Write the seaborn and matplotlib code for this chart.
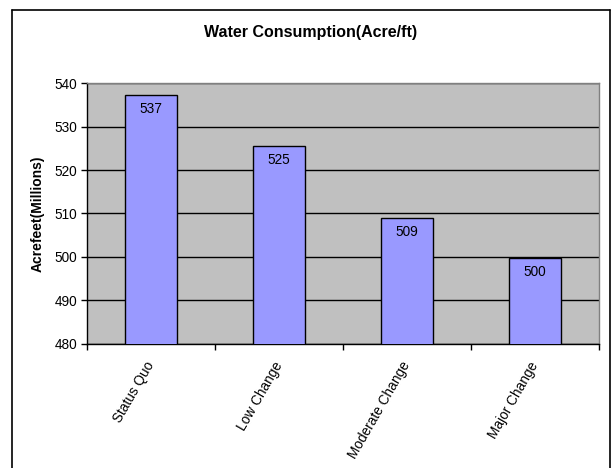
import pandas as pd
import matplotlib
matplotlib.use("Agg")
import matplotlib.pyplot as plt
from matplotlib.lines import Line2D
import seaborn as sns

# data
scenarios = ["Status Quo", "Low Change", "Moderate Change", "Major Change"]
consumption = [537.2, 525.5, 509.0, 499.7]
labels = ["537", "525", "509", "500"]
yticks = [480, 490, 500, 510, 520, 530, 540]

sns.set_style("white")
plt.rcParams["font.family"] = ["Liberation Sans", "DejaVu Sans"]
plt.rcParams["text.color"] = "black"
plt.rcParams["axes.labelcolor"] = "black"
plt.rcParams["xtick.color"] = "black"
plt.rcParams["ytick.color"] = "black"

df = pd.DataFrame({"scenario": scenarios, "acrefeet": consumption})

fig = plt.figure(figsize=(6.13, 4.68), dpi=100)
ax = fig.add_axes([87 / 613, 1 - 343.5 / 468, 512 / 613, 260.2 / 468])
ax.set_facecolor("#C0C0C0")

sns.barplot(data=df, x="scenario", y="acrefeet", color="#9999FF",
            edgecolor="black", linewidth=1.0, width=0.4, saturation=1, ax=ax,
            zorder=3)

ax.set_ylim(480, 540)
ax.set_xlim(-0.5, len(scenarios) - 0.5)
ax.set_yticks(yticks)
ax.grid(axis="y", color="black", linewidth=1.0, zorder=1)
ax.set_axisbelow(True)

# category ticks sit between the bars, as in Excel
ax.set_xticks(range(len(scenarios)))
ax.set_xticklabels(scenarios, rotation=60, ha="right", va="center",
                   rotation_mode="anchor", fontsize=9.8)
ax.set_xticks([i - 0.5 for i in range(len(scenarios) + 1)], minor=True)
ax.tick_params(axis="x", which="major", length=0, pad=14)
ax.tick_params(axis="x", which="minor", length=4, width=1, color="black",
               direction="out", bottom=True)
ax.tick_params(axis="y", length=4, width=1, color="black", direction="out",
               labelsize=9.8, pad=3, left=True)

for s in ["top", "right"]:
    ax.spines[s].set_color("#808080")
    ax.spines[s].set_linewidth(1.0)
for s in ["left", "bottom"]:
    ax.spines[s].set_color("black")
    ax.spines[s].set_linewidth(1.0)

for i, (v, t) in enumerate(zip(consumption, labels)):
    ax.annotate(t, (i, v), xytext=(0, -5), textcoords="offset points",
                ha="center", va="top", fontsize=9.8, color="black", zorder=4)

ax.set_xlabel("")
ax.set_ylabel("Acrefeet(Millions)", fontsize=10, fontweight="bold", labelpad=7)

fig.text(0.5 * (12 + 610) / 613, 1 - 33 / 468, "Water Consumption(Acre/ft)",
         ha="center", va="center", fontsize=11.5, fontweight="bold",
         color="black")

# chart area border (bottom edge runs off the image)
bx0, bx1, by = 12 / 613, 610 / 613, 1 - 10 / 468
fig.add_artist(Line2D([bx0, bx1], [by, by], color="black", lw=1.2))
fig.add_artist(Line2D([bx0, bx0], [0, by], color="black", lw=1.2))
fig.add_artist(Line2D([bx1, bx1], [0, by], color="black", lw=1.2))

fig.savefig("out.png", dpi=100)
